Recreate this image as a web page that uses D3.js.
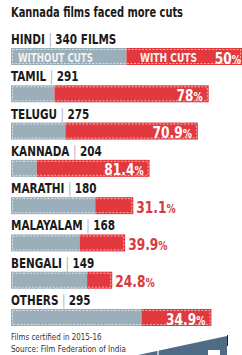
<!DOCTYPE html>
<html>
<head>
<meta charset="utf-8">
<script src="https://cdn.jsdelivr.net/npm/d3@7"></script>
<style>
  html, body { margin: 0; padding: 0; background: #fff; }
  svg { display: block; }
  text { font-family: "Liberation Sans Narrow", "DejaVu Sans Condensed", "Roboto", sans-serif; }
</style>
</head>
<body>
<div id="chart"></div>
<script>
// data
const languages = ["HINDI", "TAMIL", "TELUGU", "KANNADA", "MARATHI", "MALAYALAM", "BENGALI", "OTHERS"];
const totalFilms = [340, 291, 275, 204, 180, 168, 149, 295];
const withCutsPct = [50, 78, 70.9, 81.4, 31.1, 39.9, 24.8, 34.9];
const pctLabels = ["50", "78", "70.9", "81.4", "31.1", "39.9", "24.8", "34.9"];
const countLabels = ["340 FILMS", "291", "275", "204", "180", "168", "149", "295"];

const data = languages.map((name, i) => ({
    name: name,
    total: totalFilms[i],
    pct: withCutsPct[i],
    pctLabel: pctLabels[i],
    countLabel: countLabels[i]
}));

const W = 242, H = 355;
const grey = "#9bafba", red = "#e1393e";
const squeeze = 0.8; // the source font is a narrow one

const svg = d3.select("#chart")
    .append("svg")
    .attr("width", W)
    .attr("height", H);

// scales
const x = d3.scaleLinear()
    .domain([0, 340])
    .range([11, 242]);

const y = d3.scaleBand()
    .domain(languages)
    .range([48, 326])
    .paddingInner(0.544)
    .paddingOuter(0)
    .align(0);

// title
svg.append("text")
    .attr("x", 11)
    .attr("y", 17)
    .attr("font-size", 14.5)
    .attr("font-weight", "bold")
    .attr("fill", "#1a1a1a")
    .attr("textLength", 172)
    .attr("lengthAdjust", "spacingAndGlyphs")
    .text("Kannada films faced more cuts");

const rows = svg.selectAll("g.row")
    .data(data)
    .join("g")
    .attr("class", "row");

// row labels
const lab = rows.append("text")
    .attr("transform", d => `translate(11,${y(d.name) - 4}) scale(${squeeze},1)`)
    .attr("font-size", 14.5)
    .attr("font-weight", "bold")
    .attr("fill", "#1a1a1a");
lab.append("tspan").text(d => d.name + " ");
lab.append("tspan").attr("fill", "#b0b0b0").attr("font-weight", "normal").text("| ");
lab.append("tspan").text(d => d.countLabel);

// split point between without and with cuts
const split = d => x(d.total * (1 - d.pct / 100));

// without cuts
rows.append("rect")
    .attr("x", x(0))
    .attr("y", d => y(d.name))
    .attr("width", d => split(d) - x(0))
    .attr("height", y.bandwidth())
    .attr("fill", grey);

// with cuts
rows.append("rect")
    .attr("x", d => split(d))
    .attr("y", d => y(d.name))
    .attr("width", d => x(d.total) - split(d))
    .attr("height", y.bandwidth())
    .attr("fill", red);

// stitched border
rows.append("rect")
    .attr("x", x(0) + 1.5)
    .attr("y", d => y(d.name) + 1.5)
    .attr("width", d => x(d.total) - x(0) - 3)
    .attr("height", y.bandwidth() - 3)
    .attr("fill", "none")
    .attr("stroke", "#fff")
    .attr("stroke-opacity", 0.75)
    .attr("stroke-width", 0.8)
    .attr("stroke-dasharray", "2,1.5");

// percentage labels: inside when the red part is long enough
const inside = d => (x(d.total) - split(d)) > 60;
const pct = rows.append("text")
    .attr("transform", d => {
        const px = inside(d) ? x(d.total) - (d.name === "HINDI" ? 1 : 6) : x(d.total) + 3;
        return `translate(${px},${y(d.name) + y.bandwidth() - 1.5}) scale(0.85,1)`;
    })
    .attr("text-anchor", d => inside(d) ? "end" : "start")
    .attr("font-size", 16)
    .attr("font-weight", "bold")
    .attr("fill", d => inside(d) ? "#fff" : "#d9383d");
pct.append("tspan").text(d => d.pctLabel);
pct.append("tspan").attr("font-size", 12).text("%");

// legend inside the hindi bar
const hy = y("HINDI") + y.bandwidth() - 3;
svg.append("text")
    .attr("x", 18).attr("y", hy)
    .attr("font-size", 13).attr("font-weight", "bold")
    .attr("fill", "#f2f2f2")
    .attr("textLength", 75).attr("lengthAdjust", "spacingAndGlyphs")
    .text("WITHOUT CUTS");
svg.append("text")
    .attr("x", 140).attr("y", hy)
    .attr("font-size", 13).attr("font-weight", "bold")
    .attr("fill", "#f2f2f2")
    .attr("textLength", 57).attr("lengthAdjust", "spacingAndGlyphs")
    .text("WITH CUTS");

// footnotes
svg.append("text")
    .attr("transform", "translate(11,340) scale(0.88,1)")
    .attr("font-size", 9).attr("fill", "#333")
    .text("Films certified in 2015-16");
svg.append("text")
    .attr("transform", "translate(11,352) scale(0.9,1)")
    .attr("font-size", 9).attr("fill", "#333")
    .text("Source: Film Federation of India");

// decorative corner shape
svg.append("path")
    .attr("d", "M138,355 L227,336 L227,355 Z")
    .attr("fill", "#4f6c86");
svg.append("line")
    .attr("x1", 158).attr("y1", 349).attr("x2", 158).attr("y2", 355)
    .attr("stroke", "#fff").attr("stroke-width", 1.2);
svg.append("rect")
    .attr("x", 208).attr("y", 350).attr("width", 12).attr("height", 5)
    .attr("fill", "#fff");
svg.append("line")
    .attr("x1", 227.5).attr("y1", 335).attr("x2", 227.5).attr("y2", 346)
    .attr("stroke", "#1b2a3a").attr("stroke-width", 1);
</script>
</body>
</html>
